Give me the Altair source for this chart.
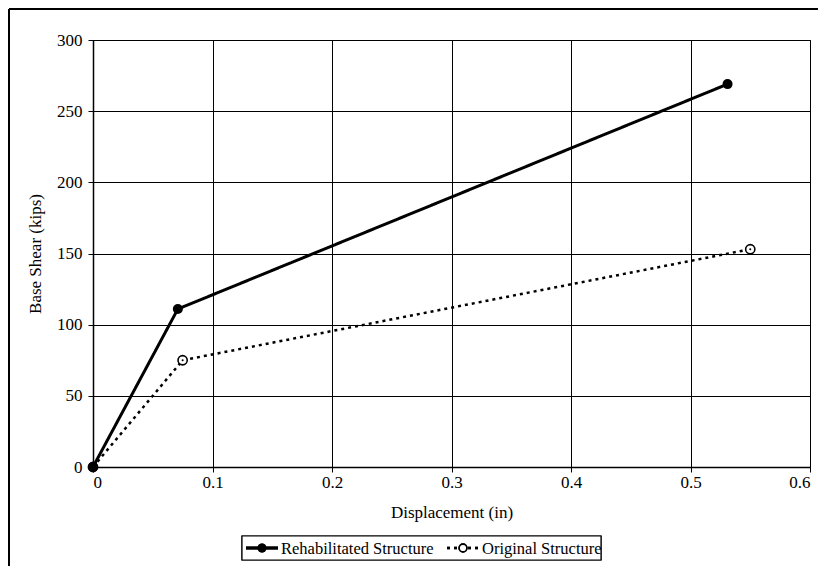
import altair as alt
import pandas as pd

series_names = ["Rehabilitated Structure", "Original Structure"]
rehab_x = [0.0, 0.071, 0.531]
rehab_y = [0, 111, 269]
orig_x = [0.0, 0.075, 0.550]
orig_y = [0, 75, 153]
x_ticks = [0, 0.1, 0.2, 0.3, 0.4, 0.5, 0.6]
y_ticks = [0, 50, 100, 150, 200, 250, 300]

rows = []
for xv, yv in zip(rehab_x, rehab_y):
    rows.append({"series": series_names[0], "x": xv, "y": yv})
for xv, yv in zip(orig_x, orig_y):
    rows.append({"series": series_names[1], "x": xv, "y": yv})
df = pd.DataFrame(rows)
legend_df = pd.DataFrame({"series": series_names})

FONT = "Liberation Serif"

x_enc = alt.X("x:Q", scale=alt.Scale(domain=[0, 0.6], nice=False, zero=False),
              axis=alt.Axis(values=x_ticks, format="~g", title="Displacement (in)",
                            grid=True, tickSize=5, labelPadding=2, titlePadding=14))
y_enc = alt.Y("y:Q", scale=alt.Scale(domain=[0, 300], nice=False),
              axis=alt.Axis(values=y_ticks, title="Base Shear (kips)",
                            grid=True, tickSize=5, labelPadding=6, titlePadding=12))

lines = alt.Chart(df).mark_line(color="black").encode(
    x=x_enc, y=y_enc,
    strokeDash=alt.StrokeDash("series:N", scale=alt.Scale(domain=series_names, range=[[1, 0], [3, 4]]), legend=None),
    strokeWidth=alt.StrokeWidth("series:N", scale=alt.Scale(domain=series_names, range=[3, 2.5]), legend=None),
)

orig_pts = alt.Chart(df).transform_filter(
    alt.datum.series == series_names[1]
).mark_point(shape="circle", fill="white", stroke="black", strokeWidth=1.6, size=85, opacity=1, filled=False).encode(
    x=x_enc, y=y_enc)
orig_dots = alt.Chart(df).transform_filter(
    alt.datum.series == series_names[1]
).mark_point(shape="circle", filled=True, color="black", size=4, opacity=1).encode(x=x_enc, y=y_enc)

rehab_pts = alt.Chart(df).transform_filter(
    alt.datum.series == series_names[0]
).mark_point(shape="circle", filled=True, color="black", size=100, opacity=1).encode(x=x_enc, y=y_enc)

# ---- legend box drawn below the plot ----
leg_box = alt.Chart(legend_df).mark_rect(fill="white", stroke="black", strokeWidth=1.2, clip=False).encode(
    x=alt.value(149), x2=alt.value(508), y=alt.value(496), y2=alt.value(520))
leg_line_r = alt.Chart(legend_df).mark_rule(color="black", strokeWidth=3, clip=False).encode(
    x=alt.value(153), x2=alt.value(185), y=alt.value(508))
leg_pt_r = alt.Chart(legend_df).mark_point(shape="circle", filled=True, color="black", size=80,
                                           opacity=1, clip=False).encode(x=alt.value(169), y=alt.value(508))
leg_line_o = alt.Chart(legend_df).mark_rule(color="black", strokeWidth=2.5, strokeDash=[3, 4], clip=False).encode(
    x=alt.value(354), x2=alt.value(386), y=alt.value(508))
leg_pt_o = alt.Chart(legend_df).mark_point(shape="circle", fill="white", stroke="black", strokeWidth=1.6,
                                           size=60, opacity=1, filled=False, clip=False).encode(
    x=alt.value(370), y=alt.value(508))
leg_txt_r = alt.Chart(legend_df).transform_filter(alt.datum.series == series_names[0]).mark_text(
    align="left", baseline="middle", font=FONT, fontSize=16.5, color="black", clip=False).encode(
    text="series:N", x=alt.value(188), y=alt.value(509))
leg_txt_o = alt.Chart(legend_df).transform_filter(alt.datum.series == series_names[1]).mark_text(
    align="left", baseline="middle", font=FONT, fontSize=16.5, color="black", clip=False).encode(
    text="series:N", x=alt.value(389), y=alt.value(509))

# outer frame of the figure (left and top edges; others fall outside the page)
frame_left = alt.Chart(legend_df).mark_rule(color="black", strokeWidth=2, clip=False).encode(
    x=alt.value(-84), y=alt.value(-31), y2=alt.value(526))
frame_top = alt.Chart(legend_df).mark_rule(color="black", strokeWidth=2, clip=False).encode(
    x=alt.value(-84), x2=alt.value(725), y=alt.value(-31))

chart = alt.layer(frame_left, frame_top, lines, orig_pts, orig_dots, rehab_pts,
                  leg_box, leg_line_r, leg_pt_r, leg_line_o, leg_pt_o, leg_txt_r, leg_txt_o).properties(
    width=717, height=427,
    padding=0,
    autosize=alt.AutoSizeParams(type="pad"),
).configure_view(stroke="black", strokeWidth=1).configure_axis(
    domainColor="black", domainWidth=1.5, tickColor="black", gridColor="black", gridWidth=1,
    labelFont=FONT, titleFont=FONT, labelFontSize=17, titleFontSize=17,
    labelColor="black", titleColor="black", titleFontWeight="normal",
)

chart.save("out.html", embed_options={"renderer": "svg", "actions": False})
